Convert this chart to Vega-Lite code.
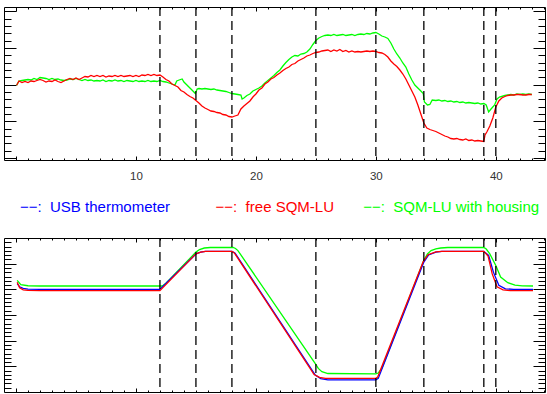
{
  "$schema": "https://vega.github.io/schema/vega-lite/v6.json",
  "padding": {"left": 3, "top": 5, "right": 3, "bottom": 4},
  "background": "white",
  "spacing": 78,
  "bounds": "flush",
  "config": {
    "view": {"stroke": "#000", "strokeWidth": 1},
    "axis": {"domain": false, "grid": false, "labels": false, "ticks": true, "tickColor": "#000", "tickWidth": 1, "title": null},
    "font": "Liberation Sans"
  },
  "resolve": {"scale": {"x": "independent", "y": "independent", "color": "shared"}, "legend": {"color": "shared"}},
  "datasets": {
    "events": [{"t": 12}, {"t": 15}, {"t": 18}, {"t": 25}, {"t": 30}, {"t": 34}, {"t": 39}, {"t": 40}],
    "top": [
      {"series": "SQM-LU with housing", "t": 0.05, "v": 7.27}, {"series": "SQM-LU with housing", "t": 0.25, "v": 7.7}, {"series": "SQM-LU with housing", "t": 0.5, "v": 7.75}, {"series": "SQM-LU with housing", "t": 0.75, "v": 7.8}, {"series": "SQM-LU with housing", "t": 1.0, "v": 7.85}, {"series": "SQM-LU with housing", "t": 1.25, "v": 7.8}, {"series": "SQM-LU with housing", "t": 1.5, "v": 7.95}, {"series": "SQM-LU with housing", "t": 1.75, "v": 7.85}, {"series": "SQM-LU with housing", "t": 2.0, "v": 8.05}, {"series": "SQM-LU with housing", "t": 2.25, "v": 8.0}, {"series": "SQM-LU with housing", "t": 2.5, "v": 7.95}, {"series": "SQM-LU with housing", "t": 2.75, "v": 7.85}, {"series": "SQM-LU with housing", "t": 3.0, "v": 7.95}, {"series": "SQM-LU with housing", "t": 3.25, "v": 7.85}, {"series": "SQM-LU with housing", "t": 3.5, "v": 7.9}, {"series": "SQM-LU with housing", "t": 3.75, "v": 7.8}, {"series": "SQM-LU with housing", "t": 4.0, "v": 7.75}, {"series": "SQM-LU with housing", "t": 4.25, "v": 7.8}, {"series": "SQM-LU with housing", "t": 4.5, "v": 7.9}, {"series": "SQM-LU with housing", "t": 4.75, "v": 7.85}, {"series": "SQM-LU with housing", "t": 5.0, "v": 7.95}, {"series": "SQM-LU with housing", "t": 5.25, "v": 7.85}, {"series": "SQM-LU with housing", "t": 5.5, "v": 7.75}, {"series": "SQM-LU with housing", "t": 5.75, "v": 7.85}, {"series": "SQM-LU with housing", "t": 6.0, "v": 7.75}, {"series": "SQM-LU with housing", "t": 6.25, "v": 7.8}, {"series": "SQM-LU with housing", "t": 6.5, "v": 7.7}, {"series": "SQM-LU with housing", "t": 6.75, "v": 7.75}, {"series": "SQM-LU with housing", "t": 7.0, "v": 7.7}, {"series": "SQM-LU with housing", "t": 7.25, "v": 7.8}, {"series": "SQM-LU with housing", "t": 7.5, "v": 7.65}, {"series": "SQM-LU with housing", "t": 7.75, "v": 7.75}, {"series": "SQM-LU with housing", "t": 8.0, "v": 7.7}, {"series": "SQM-LU with housing", "t": 8.25, "v": 7.8}, {"series": "SQM-LU with housing", "t": 8.5, "v": 7.7}, {"series": "SQM-LU with housing", "t": 8.75, "v": 7.75}, {"series": "SQM-LU with housing", "t": 9.0, "v": 7.65}, {"series": "SQM-LU with housing", "t": 9.25, "v": 7.75}, {"series": "SQM-LU with housing", "t": 9.5, "v": 7.7}, {"series": "SQM-LU with housing", "t": 9.75, "v": 7.65}, {"series": "SQM-LU with housing", "t": 10.0, "v": 7.75}, {"series": "SQM-LU with housing", "t": 10.25, "v": 7.65}, {"series": "SQM-LU with housing", "t": 10.5, "v": 7.7}, {"series": "SQM-LU with housing", "t": 10.75, "v": 7.65}, {"series": "SQM-LU with housing", "t": 11.0, "v": 7.75}, {"series": "SQM-LU with housing", "t": 11.25, "v": 7.65}, {"series": "SQM-LU with housing", "t": 11.5, "v": 7.7}, {"series": "SQM-LU with housing", "t": 11.75, "v": 7.65}, {"series": "SQM-LU with housing", "t": 12.0, "v": 7.75}, {"series": "SQM-LU with housing", "t": 12.25, "v": 7.65}, {"series": "SQM-LU with housing", "t": 12.5, "v": 7.6}, {"series": "SQM-LU with housing", "t": 12.75, "v": 7.5}, {"series": "SQM-LU with housing", "t": 13.0, "v": 7.4}, {"series": "SQM-LU with housing", "t": 13.25, "v": 7.3}, {"series": "SQM-LU with housing", "t": 13.4, "v": 7.7}, {"series": "SQM-LU with housing", "t": 13.6, "v": 7.8}, {"series": "SQM-LU with housing", "t": 13.85, "v": 7.9}, {"series": "SQM-LU with housing", "t": 14.0, "v": 7.6}, {"series": "SQM-LU with housing", "t": 14.25, "v": 7.3}, {"series": "SQM-LU with housing", "t": 14.5, "v": 7.0}, {"series": "SQM-LU with housing", "t": 14.75, "v": 6.7}, {"series": "SQM-LU with housing", "t": 14.95, "v": 6.45}, {"series": "SQM-LU with housing", "t": 15.1, "v": 6.9}, {"series": "SQM-LU with housing", "t": 15.25, "v": 6.95}, {"series": "SQM-LU with housing", "t": 15.5, "v": 6.9}, {"series": "SQM-LU with housing", "t": 15.75, "v": 6.95}, {"series": "SQM-LU with housing", "t": 16.0, "v": 6.9}, {"series": "SQM-LU with housing", "t": 16.25, "v": 6.85}, {"series": "SQM-LU with housing", "t": 16.5, "v": 6.9}, {"series": "SQM-LU with housing", "t": 16.75, "v": 6.8}, {"series": "SQM-LU with housing", "t": 17.0, "v": 6.75}, {"series": "SQM-LU with housing", "t": 17.25, "v": 6.7}, {"series": "SQM-LU with housing", "t": 17.5, "v": 6.65}, {"series": "SQM-LU with housing", "t": 17.75, "v": 6.55}, {"series": "SQM-LU with housing", "t": 18.0, "v": 6.45}, {"series": "SQM-LU with housing", "t": 18.25, "v": 6.4}, {"series": "SQM-LU with housing", "t": 18.5, "v": 6.35}, {"series": "SQM-LU with housing", "t": 18.75, "v": 6.3}, {"series": "SQM-LU with housing", "t": 18.85, "v": 5.9}, {"series": "SQM-LU with housing", "t": 19.0, "v": 6.0}, {"series": "SQM-LU with housing", "t": 19.25, "v": 6.25}, {"series": "SQM-LU with housing", "t": 19.5, "v": 6.4}, {"series": "SQM-LU with housing", "t": 19.75, "v": 6.7}, {"series": "SQM-LU with housing", "t": 20.0, "v": 6.85}, {"series": "SQM-LU with housing", "t": 20.25, "v": 7.0}, {"series": "SQM-LU with housing", "t": 20.5, "v": 7.2}, {"series": "SQM-LU with housing", "t": 20.75, "v": 7.5}, {"series": "SQM-LU with housing", "t": 21.0, "v": 7.75}, {"series": "SQM-LU with housing", "t": 21.25, "v": 8.0}, {"series": "SQM-LU with housing", "t": 21.5, "v": 8.25}, {"series": "SQM-LU with housing", "t": 21.75, "v": 8.55}, {"series": "SQM-LU with housing", "t": 22.0, "v": 8.8}, {"series": "SQM-LU with housing", "t": 22.25, "v": 9.2}, {"series": "SQM-LU with housing", "t": 22.5, "v": 9.55}, {"series": "SQM-LU with housing", "t": 22.75, "v": 9.85}, {"series": "SQM-LU with housing", "t": 23.0, "v": 10.1}, {"series": "SQM-LU with housing", "t": 23.25, "v": 10.25}, {"series": "SQM-LU with housing", "t": 23.5, "v": 10.2}, {"series": "SQM-LU with housing", "t": 23.75, "v": 10.4}, {"series": "SQM-LU with housing", "t": 24.0, "v": 10.45}, {"series": "SQM-LU with housing", "t": 24.25, "v": 10.6}, {"series": "SQM-LU with housing", "t": 24.5, "v": 10.9}, {"series": "SQM-LU with housing", "t": 24.75, "v": 11.35}, {"series": "SQM-LU with housing", "t": 25.0, "v": 11.75}, {"series": "SQM-LU with housing", "t": 25.25, "v": 12.0}, {"series": "SQM-LU with housing", "t": 25.5, "v": 12.15}, {"series": "SQM-LU with housing", "t": 25.75, "v": 12.25}, {"series": "SQM-LU with housing", "t": 26.0, "v": 12.3}, {"series": "SQM-LU with housing", "t": 26.25, "v": 12.25}, {"series": "SQM-LU with housing", "t": 26.5, "v": 12.35}, {"series": "SQM-LU with housing", "t": 26.75, "v": 12.25}, {"series": "SQM-LU with housing", "t": 27.0, "v": 12.3}, {"series": "SQM-LU with housing", "t": 27.25, "v": 12.35}, {"series": "SQM-LU with housing", "t": 27.5, "v": 12.25}, {"series": "SQM-LU with housing", "t": 27.75, "v": 12.3}, {"series": "SQM-LU with housing", "t": 28.0, "v": 12.35}, {"series": "SQM-LU with housing", "t": 28.25, "v": 12.25}, {"series": "SQM-LU with housing", "t": 28.5, "v": 12.35}, {"series": "SQM-LU with housing", "t": 28.75, "v": 12.4}, {"series": "SQM-LU with housing", "t": 29.0, "v": 12.35}, {"series": "SQM-LU with housing", "t": 29.25, "v": 12.45}, {"series": "SQM-LU with housing", "t": 29.5, "v": 12.4}, {"series": "SQM-LU with housing", "t": 29.75, "v": 12.5}, {"series": "SQM-LU with housing", "t": 30.0, "v": 12.55}, {"series": "SQM-LU with housing", "t": 30.25, "v": 12.4}, {"series": "SQM-LU with housing", "t": 30.5, "v": 12.2}, {"series": "SQM-LU with housing", "t": 30.75, "v": 12.1}, {"series": "SQM-LU with housing", "t": 31.0, "v": 11.95}, {"series": "SQM-LU with housing", "t": 31.25, "v": 11.5}, {"series": "SQM-LU with housing", "t": 31.5, "v": 10.9}, {"series": "SQM-LU with housing", "t": 31.75, "v": 10.4}, {"series": "SQM-LU with housing", "t": 32.0, "v": 10.0}, {"series": "SQM-LU with housing", "t": 32.25, "v": 9.5}, {"series": "SQM-LU with housing", "t": 32.5, "v": 9.1}, {"series": "SQM-LU with housing", "t": 32.75, "v": 8.4}, {"series": "SQM-LU with housing", "t": 33.0, "v": 7.8}, {"series": "SQM-LU with housing", "t": 33.25, "v": 7.3}, {"series": "SQM-LU with housing", "t": 33.5, "v": 7.0}, {"series": "SQM-LU with housing", "t": 33.75, "v": 6.7}, {"series": "SQM-LU with housing", "t": 33.95, "v": 6.45}, {"series": "SQM-LU with housing", "t": 34.05, "v": 5.6}, {"series": "SQM-LU with housing", "t": 34.3, "v": 5.3}, {"series": "SQM-LU with housing", "t": 34.5, "v": 5.35}, {"series": "SQM-LU with housing", "t": 34.7, "v": 5.8}, {"series": "SQM-LU with housing", "t": 35.0, "v": 5.75}, {"series": "SQM-LU with housing", "t": 35.25, "v": 5.8}, {"series": "SQM-LU with housing", "t": 35.5, "v": 5.7}, {"series": "SQM-LU with housing", "t": 35.75, "v": 5.75}, {"series": "SQM-LU with housing", "t": 36.0, "v": 5.65}, {"series": "SQM-LU with housing", "t": 36.25, "v": 5.7}, {"series": "SQM-LU with housing", "t": 36.5, "v": 5.6}, {"series": "SQM-LU with housing", "t": 36.75, "v": 5.65}, {"series": "SQM-LU with housing", "t": 37.0, "v": 5.55}, {"series": "SQM-LU with housing", "t": 37.25, "v": 5.6}, {"series": "SQM-LU with housing", "t": 37.5, "v": 5.5}, {"series": "SQM-LU with housing", "t": 37.75, "v": 5.55}, {"series": "SQM-LU with housing", "t": 38.0, "v": 5.5}, {"series": "SQM-LU with housing", "t": 38.25, "v": 5.45}, {"series": "SQM-LU with housing", "t": 38.5, "v": 5.5}, {"series": "SQM-LU with housing", "t": 38.75, "v": 5.4}, {"series": "SQM-LU with housing", "t": 39.0, "v": 5.45}, {"series": "SQM-LU with housing", "t": 39.2, "v": 5.3}, {"series": "SQM-LU with housing", "t": 39.4, "v": 4.6}, {"series": "SQM-LU with housing", "t": 39.6, "v": 4.9}, {"series": "SQM-LU with housing", "t": 39.9, "v": 5.3}, {"series": "SQM-LU with housing", "t": 40.1, "v": 5.9}, {"series": "SQM-LU with housing", "t": 40.3, "v": 6.1}, {"series": "SQM-LU with housing", "t": 40.75, "v": 6.25}, {"series": "SQM-LU with housing", "t": 41.0, "v": 6.3}, {"series": "SQM-LU with housing", "t": 41.25, "v": 6.35}, {"series": "SQM-LU with housing", "t": 41.5, "v": 6.3}, {"series": "SQM-LU with housing", "t": 41.75, "v": 6.4}, {"series": "SQM-LU with housing", "t": 42.0, "v": 6.35}, {"series": "SQM-LU with housing", "t": 42.25, "v": 6.4}, {"series": "SQM-LU with housing", "t": 42.5, "v": 6.35}, {"series": "SQM-LU with housing", "t": 42.75, "v": 6.4}, {"series": "SQM-LU with housing", "t": 43.0, "v": 6.35},
      {"series": "free SQM-LU", "t": 0.05, "v": 7.27}, {"series": "free SQM-LU", "t": 0.25, "v": 7.7}, {"series": "free SQM-LU", "t": 0.5, "v": 7.55}, {"series": "free SQM-LU", "t": 0.75, "v": 7.65}, {"series": "free SQM-LU", "t": 1.0, "v": 7.55}, {"series": "free SQM-LU", "t": 1.25, "v": 7.7}, {"series": "free SQM-LU", "t": 1.5, "v": 7.65}, {"series": "free SQM-LU", "t": 1.75, "v": 7.75}, {"series": "free SQM-LU", "t": 2.0, "v": 7.85}, {"series": "free SQM-LU", "t": 2.25, "v": 7.75}, {"series": "free SQM-LU", "t": 2.5, "v": 7.6}, {"series": "free SQM-LU", "t": 2.75, "v": 7.7}, {"series": "free SQM-LU", "t": 3.0, "v": 7.65}, {"series": "free SQM-LU", "t": 3.25, "v": 7.8}, {"series": "free SQM-LU", "t": 3.5, "v": 7.65}, {"series": "free SQM-LU", "t": 3.75, "v": 7.55}, {"series": "free SQM-LU", "t": 4.0, "v": 7.7}, {"series": "free SQM-LU", "t": 4.25, "v": 7.85}, {"series": "free SQM-LU", "t": 4.5, "v": 7.95}, {"series": "free SQM-LU", "t": 4.75, "v": 7.85}, {"series": "free SQM-LU", "t": 5.0, "v": 8.0}, {"series": "free SQM-LU", "t": 5.25, "v": 7.85}, {"series": "free SQM-LU", "t": 5.5, "v": 8.0}, {"series": "free SQM-LU", "t": 5.75, "v": 8.15}, {"series": "free SQM-LU", "t": 6.0, "v": 8.1}, {"series": "free SQM-LU", "t": 6.25, "v": 8.25}, {"series": "free SQM-LU", "t": 6.5, "v": 8.15}, {"series": "free SQM-LU", "t": 6.75, "v": 8.25}, {"series": "free SQM-LU", "t": 7.0, "v": 8.15}, {"series": "free SQM-LU", "t": 7.25, "v": 8.25}, {"series": "free SQM-LU", "t": 7.5, "v": 8.1}, {"series": "free SQM-LU", "t": 7.75, "v": 8.2}, {"series": "free SQM-LU", "t": 8.0, "v": 8.15}, {"series": "free SQM-LU", "t": 8.25, "v": 8.25}, {"series": "free SQM-LU", "t": 8.5, "v": 8.15}, {"series": "free SQM-LU", "t": 8.75, "v": 8.25}, {"series": "free SQM-LU", "t": 9.0, "v": 8.15}, {"series": "free SQM-LU", "t": 9.25, "v": 8.2}, {"series": "free SQM-LU", "t": 9.5, "v": 8.25}, {"series": "free SQM-LU", "t": 9.75, "v": 8.15}, {"series": "free SQM-LU", "t": 10.0, "v": 8.25}, {"series": "free SQM-LU", "t": 10.25, "v": 8.15}, {"series": "free SQM-LU", "t": 10.5, "v": 8.3}, {"series": "free SQM-LU", "t": 10.75, "v": 8.25}, {"series": "free SQM-LU", "t": 11.0, "v": 8.35}, {"series": "free SQM-LU", "t": 11.25, "v": 8.25}, {"series": "free SQM-LU", "t": 11.5, "v": 8.35}, {"series": "free SQM-LU", "t": 11.75, "v": 8.25}, {"series": "free SQM-LU", "t": 12.0, "v": 8.3}, {"series": "free SQM-LU", "t": 12.25, "v": 8.1}, {"series": "free SQM-LU", "t": 12.5, "v": 7.85}, {"series": "free SQM-LU", "t": 12.75, "v": 7.7}, {"series": "free SQM-LU", "t": 13.0, "v": 7.4}, {"series": "free SQM-LU", "t": 13.25, "v": 7.25}, {"series": "free SQM-LU", "t": 13.5, "v": 7.1}, {"series": "free SQM-LU", "t": 13.75, "v": 6.75}, {"series": "free SQM-LU", "t": 14.0, "v": 6.6}, {"series": "free SQM-LU", "t": 14.25, "v": 6.35}, {"series": "free SQM-LU", "t": 14.5, "v": 6.15}, {"series": "free SQM-LU", "t": 14.75, "v": 6.0}, {"series": "free SQM-LU", "t": 15.0, "v": 5.75}, {"series": "free SQM-LU", "t": 15.25, "v": 5.5}, {"series": "free SQM-LU", "t": 15.5, "v": 5.2}, {"series": "free SQM-LU", "t": 15.75, "v": 5.0}, {"series": "free SQM-LU", "t": 16.0, "v": 4.85}, {"series": "free SQM-LU", "t": 16.25, "v": 4.7}, {"series": "free SQM-LU", "t": 16.5, "v": 4.65}, {"series": "free SQM-LU", "t": 16.75, "v": 4.55}, {"series": "free SQM-LU", "t": 17.0, "v": 4.5}, {"series": "free SQM-LU", "t": 17.25, "v": 4.35}, {"series": "free SQM-LU", "t": 17.5, "v": 4.3}, {"series": "free SQM-LU", "t": 17.75, "v": 4.15}, {"series": "free SQM-LU", "t": 18.0, "v": 4.1}, {"series": "free SQM-LU", "t": 18.25, "v": 4.2}, {"series": "free SQM-LU", "t": 18.5, "v": 4.3}, {"series": "free SQM-LU", "t": 18.75, "v": 4.9}, {"series": "free SQM-LU", "t": 19.0, "v": 5.2}, {"series": "free SQM-LU", "t": 19.25, "v": 5.45}, {"series": "free SQM-LU", "t": 19.5, "v": 5.7}, {"series": "free SQM-LU", "t": 19.75, "v": 6.1}, {"series": "free SQM-LU", "t": 20.0, "v": 6.4}, {"series": "free SQM-LU", "t": 20.25, "v": 6.8}, {"series": "free SQM-LU", "t": 20.5, "v": 7.0}, {"series": "free SQM-LU", "t": 20.75, "v": 7.4}, {"series": "free SQM-LU", "t": 21.0, "v": 7.6}, {"series": "free SQM-LU", "t": 21.25, "v": 7.9}, {"series": "free SQM-LU", "t": 21.5, "v": 8.05}, {"series": "free SQM-LU", "t": 21.75, "v": 8.3}, {"series": "free SQM-LU", "t": 22.0, "v": 8.5}, {"series": "free SQM-LU", "t": 22.25, "v": 8.75}, {"series": "free SQM-LU", "t": 22.5, "v": 8.95}, {"series": "free SQM-LU", "t": 22.75, "v": 9.1}, {"series": "free SQM-LU", "t": 23.0, "v": 9.35}, {"series": "free SQM-LU", "t": 23.25, "v": 9.45}, {"series": "free SQM-LU", "t": 23.5, "v": 9.7}, {"series": "free SQM-LU", "t": 23.75, "v": 9.85}, {"series": "free SQM-LU", "t": 24.0, "v": 10.0}, {"series": "free SQM-LU", "t": 24.25, "v": 10.2}, {"series": "free SQM-LU", "t": 24.5, "v": 10.3}, {"series": "free SQM-LU", "t": 24.75, "v": 10.45}, {"series": "free SQM-LU", "t": 25.0, "v": 10.55}, {"series": "free SQM-LU", "t": 25.25, "v": 10.6}, {"series": "free SQM-LU", "t": 25.5, "v": 10.7}, {"series": "free SQM-LU", "t": 25.75, "v": 10.75}, {"series": "free SQM-LU", "t": 26.0, "v": 10.8}, {"series": "free SQM-LU", "t": 26.25, "v": 10.65}, {"series": "free SQM-LU", "t": 26.5, "v": 10.8}, {"series": "free SQM-LU", "t": 26.75, "v": 10.7}, {"series": "free SQM-LU", "t": 27.0, "v": 10.85}, {"series": "free SQM-LU", "t": 27.25, "v": 10.65}, {"series": "free SQM-LU", "t": 27.5, "v": 10.75}, {"series": "free SQM-LU", "t": 27.75, "v": 10.6}, {"series": "free SQM-LU", "t": 28.0, "v": 10.7}, {"series": "free SQM-LU", "t": 28.25, "v": 10.6}, {"series": "free SQM-LU", "t": 28.5, "v": 10.65}, {"series": "free SQM-LU", "t": 28.75, "v": 10.6}, {"series": "free SQM-LU", "t": 29.0, "v": 10.65}, {"series": "free SQM-LU", "t": 29.25, "v": 10.7}, {"series": "free SQM-LU", "t": 29.5, "v": 10.65}, {"series": "free SQM-LU", "t": 29.75, "v": 10.7}, {"series": "free SQM-LU", "t": 30.0, "v": 10.65}, {"series": "free SQM-LU", "t": 30.25, "v": 10.55}, {"series": "free SQM-LU", "t": 30.5, "v": 10.5}, {"series": "free SQM-LU", "t": 30.75, "v": 10.35}, {"series": "free SQM-LU", "t": 31.0, "v": 10.1}, {"series": "free SQM-LU", "t": 31.25, "v": 9.7}, {"series": "free SQM-LU", "t": 31.5, "v": 9.4}, {"series": "free SQM-LU", "t": 31.75, "v": 9.15}, {"series": "free SQM-LU", "t": 32.0, "v": 8.8}, {"series": "free SQM-LU", "t": 32.25, "v": 8.4}, {"series": "free SQM-LU", "t": 32.5, "v": 7.9}, {"series": "free SQM-LU", "t": 32.75, "v": 7.3}, {"series": "free SQM-LU", "t": 33.0, "v": 6.7}, {"series": "free SQM-LU", "t": 33.25, "v": 6.1}, {"series": "free SQM-LU", "t": 33.5, "v": 5.3}, {"series": "free SQM-LU", "t": 33.75, "v": 4.4}, {"series": "free SQM-LU", "t": 34.0, "v": 3.5}, {"series": "free SQM-LU", "t": 34.25, "v": 3.0}, {"series": "free SQM-LU", "t": 34.5, "v": 2.85}, {"series": "free SQM-LU", "t": 34.75, "v": 2.75}, {"series": "free SQM-LU", "t": 35.0, "v": 2.65}, {"series": "free SQM-LU", "t": 35.25, "v": 2.5}, {"series": "free SQM-LU", "t": 35.5, "v": 2.35}, {"series": "free SQM-LU", "t": 35.75, "v": 2.2}, {"series": "free SQM-LU", "t": 36.0, "v": 2.1}, {"series": "free SQM-LU", "t": 36.25, "v": 1.95}, {"series": "free SQM-LU", "t": 36.5, "v": 1.9}, {"series": "free SQM-LU", "t": 36.75, "v": 1.95}, {"series": "free SQM-LU", "t": 37.0, "v": 1.85}, {"series": "free SQM-LU", "t": 37.25, "v": 1.8}, {"series": "free SQM-LU", "t": 37.5, "v": 1.9}, {"series": "free SQM-LU", "t": 37.75, "v": 1.75}, {"series": "free SQM-LU", "t": 38.0, "v": 1.8}, {"series": "free SQM-LU", "t": 38.25, "v": 1.7}, {"series": "free SQM-LU", "t": 38.5, "v": 1.75}, {"series": "free SQM-LU", "t": 38.75, "v": 1.7}, {"series": "free SQM-LU", "t": 39.0, "v": 1.65}, {"series": "free SQM-LU", "t": 39.1, "v": 2.3}, {"series": "free SQM-LU", "t": 39.25, "v": 2.6}, {"series": "free SQM-LU", "t": 39.5, "v": 3.2}, {"series": "free SQM-LU", "t": 39.75, "v": 4.0}, {"series": "free SQM-LU", "t": 40.0, "v": 5.1}, {"series": "free SQM-LU", "t": 40.25, "v": 5.7}, {"series": "free SQM-LU", "t": 40.5, "v": 6.0}, {"series": "free SQM-LU", "t": 40.75, "v": 6.15}, {"series": "free SQM-LU", "t": 41.0, "v": 6.25}, {"series": "free SQM-LU", "t": 41.25, "v": 6.3}, {"series": "free SQM-LU", "t": 41.5, "v": 6.3}, {"series": "free SQM-LU", "t": 41.75, "v": 6.35}, {"series": "free SQM-LU", "t": 42.0, "v": 6.35}, {"series": "free SQM-LU", "t": 42.25, "v": 6.3}, {"series": "free SQM-LU", "t": 42.5, "v": 6.3}, {"series": "free SQM-LU", "t": 42.75, "v": 6.35}, {"series": "free SQM-LU", "t": 43.0, "v": 6.35}
    ],
    "bottom": [
      {"series": "SQM-LU with housing", "t": 0.1, "v": 23.5}, {"series": "SQM-LU with housing", "t": 0.4, "v": 21.8}, {"series": "SQM-LU with housing", "t": 1.0, "v": 21.4}, {"series": "SQM-LU with housing", "t": 2.0, "v": 21.3}, {"series": "SQM-LU with housing", "t": 12.2, "v": 21.3}, {"series": "SQM-LU with housing", "t": 12.5, "v": 22.4}, {"series": "SQM-LU with housing", "t": 15.0, "v": 34.5}, {"series": "SQM-LU with housing", "t": 15.3, "v": 35.5}, {"series": "SQM-LU with housing", "t": 15.7, "v": 36.1}, {"series": "SQM-LU with housing", "t": 16.2, "v": 36.3}, {"series": "SQM-LU with housing", "t": 18.1, "v": 36.3}, {"series": "SQM-LU with housing", "t": 18.3, "v": 35.9}, {"series": "SQM-LU with housing", "t": 18.5, "v": 35.1}, {"series": "SQM-LU with housing", "t": 24.95, "v": -8.9}, {"series": "SQM-LU with housing", "t": 25.2, "v": -10.8}, {"series": "SQM-LU with housing", "t": 25.5, "v": -12.1}, {"series": "SQM-LU with housing", "t": 26.0, "v": -12.8}, {"series": "SQM-LU with housing", "t": 30.0, "v": -12.9}, {"series": "SQM-LU with housing", "t": 30.2, "v": -12.6}, {"series": "SQM-LU with housing", "t": 30.5, "v": -10.8}, {"series": "SQM-LU with housing", "t": 34.0, "v": 31.3}, {"series": "SQM-LU with housing", "t": 34.3, "v": 33.8}, {"series": "SQM-LU with housing", "t": 34.6, "v": 35.1}, {"series": "SQM-LU with housing", "t": 35.0, "v": 35.8}, {"series": "SQM-LU with housing", "t": 35.4, "v": 36.1}, {"series": "SQM-LU with housing", "t": 36.0, "v": 36.3}, {"series": "SQM-LU with housing", "t": 39.0, "v": 36.3}, {"series": "SQM-LU with housing", "t": 39.2, "v": 35.7}, {"series": "SQM-LU with housing", "t": 39.5, "v": 33.8}, {"series": "SQM-LU with housing", "t": 40.0, "v": 29.3}, {"series": "SQM-LU with housing", "t": 40.4, "v": 24.8}, {"series": "SQM-LU with housing", "t": 41.0, "v": 22.6}, {"series": "SQM-LU with housing", "t": 41.6, "v": 21.6}, {"series": "SQM-LU with housing", "t": 42.2, "v": 21.35}, {"series": "SQM-LU with housing", "t": 43.1, "v": 21.3},
      {"series": "USB thermometer", "t": 0.1, "v": 22.2}, {"series": "USB thermometer", "t": 0.3, "v": 21.0}, {"series": "USB thermometer", "t": 0.6, "v": 20.4}, {"series": "USB thermometer", "t": 1.0, "v": 20.1}, {"series": "USB thermometer", "t": 2.0, "v": 20.0}, {"series": "USB thermometer", "t": 12.0, "v": 20.0}, {"series": "USB thermometer", "t": 15.0, "v": 33.8}, {"series": "USB thermometer", "t": 15.4, "v": 34.5}, {"series": "USB thermometer", "t": 15.8, "v": 34.8}, {"series": "USB thermometer", "t": 18.0, "v": 34.8}, {"series": "USB thermometer", "t": 18.25, "v": 34.2}, {"series": "USB thermometer", "t": 24.95, "v": -13.4}, {"series": "USB thermometer", "t": 25.4, "v": -14.8}, {"series": "USB thermometer", "t": 26.0, "v": -15.3}, {"series": "USB thermometer", "t": 30.0, "v": -15.3}, {"series": "USB thermometer", "t": 30.2, "v": -14.7}, {"series": "USB thermometer", "t": 34.0, "v": 30.6}, {"series": "USB thermometer", "t": 34.4, "v": 33.4}, {"series": "USB thermometer", "t": 35.0, "v": 34.5}, {"series": "USB thermometer", "t": 35.5, "v": 34.8}, {"series": "USB thermometer", "t": 39.0, "v": 34.8}, {"series": "USB thermometer", "t": 39.4, "v": 33.2}, {"series": "USB thermometer", "t": 39.8, "v": 26.7}, {"series": "USB thermometer", "t": 40.25, "v": 21.6}, {"series": "USB thermometer", "t": 40.8, "v": 20.2}, {"series": "USB thermometer", "t": 41.5, "v": 20.0}, {"series": "USB thermometer", "t": 43.1, "v": 20.0},
      {"series": "free SQM-LU", "t": 0.1, "v": 22.8}, {"series": "free SQM-LU", "t": 0.3, "v": 20.6}, {"series": "free SQM-LU", "t": 0.6, "v": 19.8}, {"series": "free SQM-LU", "t": 1.0, "v": 19.6}, {"series": "free SQM-LU", "t": 2.0, "v": 19.5}, {"series": "free SQM-LU", "t": 12.0, "v": 19.5}, {"series": "free SQM-LU", "t": 15.0, "v": 33.8}, {"series": "free SQM-LU", "t": 15.4, "v": 34.5}, {"series": "free SQM-LU", "t": 15.8, "v": 34.8}, {"series": "free SQM-LU", "t": 18.0, "v": 34.8}, {"series": "free SQM-LU", "t": 18.2, "v": 34.2}, {"series": "free SQM-LU", "t": 24.85, "v": -13.2}, {"series": "free SQM-LU", "t": 25.3, "v": -14.3}, {"series": "free SQM-LU", "t": 25.8, "v": -14.7}, {"series": "free SQM-LU", "t": 30.0, "v": -14.7}, {"series": "free SQM-LU", "t": 30.15, "v": -14.2}, {"series": "free SQM-LU", "t": 33.95, "v": 30.8}, {"series": "free SQM-LU", "t": 34.35, "v": 33.5}, {"series": "free SQM-LU", "t": 35.0, "v": 34.6}, {"series": "free SQM-LU", "t": 35.5, "v": 34.8}, {"series": "free SQM-LU", "t": 39.0, "v": 34.8}, {"series": "free SQM-LU", "t": 39.35, "v": 33.0}, {"series": "free SQM-LU", "t": 39.7, "v": 26.0}, {"series": "free SQM-LU", "t": 40.1, "v": 21.0}, {"series": "free SQM-LU", "t": 40.6, "v": 19.8}, {"series": "free SQM-LU", "t": 41.2, "v": 19.5}, {"series": "free SQM-LU", "t": 43.1, "v": 19.5}
    ]
  },
  "vconcat": [
    {
      "width": 541,
      "height": 153,
      "resolve": {"axis": {"x": "independent", "y": "independent"}},
      "layer": [
        {
          "data": {"name": "top"},
          "transform": [{"filter": "datum.series === 'SQM-LU with housing'"}],
          "mark": {"type": "line", "strokeWidth": 1.3},
          "encoding": {
            "x": {"field": "t", "type": "quantitative", "scale": {"domain": [-1, 44.1], "nice": false, "zero": false},
              "axis": {"orient": "bottom", "values": [0,1,2,3,4,5,6,7,8,9,10,11,12,13,14,15,16,17,18,19,20,21,22,23,24,25,26,27,28,29,30,31,32,33,34,35,36,37,38,39,40,41,42,43,44],
                "labels": true, "labelExpr": "datum.value % 10 === 0 && datum.value > 0 ? datum.label : ''", "labelFont": "Liberation Sans", "labelFontSize": 11.5, "labelColor": "#333", "labelPadding": 14.5, "labelFlush": false, "labelBound": false,
                "tickSize": {"condition": {"test": "datum.value % 10 === 0", "value": -4}, "value": -2}}},
            "y": {"field": "v", "type": "quantitative", "scale": {"domain": [-0.2, 15.1], "nice": false, "zero": false},
              "axis": {"orient": "left", "values": [0,0.734,1.468,2.202,2.936,3.67,4.404,5.138,5.872,6.606,7.34,8.074,8.808,9.542,10.276,11.01,11.744,12.478,13.212,13.946,14.68],
                "tickSize": {"condition": {"test": "indexof([0,3.67,7.34,11.01,14.68], datum.value) >= 0", "value": -12}, "value": -7}}},
            "color": {"field": "series", "type": "nominal",
              "scale": {"domain": ["USB thermometer", "free SQM-LU", "SQM-LU with housing"], "range": ["#0000ff", "#ff0000", "#00ff00"]},
              "legend": {"orient": "none", "legendX": 1, "legendY": 192, "direction": "horizontal", "title": null, "symbolSize": 0, "symbolOpacity": 0, "symbolStrokeWidth": 0, "labelOffset": 0, "columnPadding": 13.6, "labelFont": "Liberation Sans", "labelFontSize": 15, "labelLimit": 300,
                "labelExpr": "'−−:\u00a0 ' + datum.label",
                "encode": {"labels": {"update": {"fill": {"signal": "datum.value === 'USB thermometer' ? '#0000ff' : datum.value === 'free SQM-LU' ? '#ff0000' : '#00ff00'"}, "dx": {"signal": "datum.value === 'free SQM-LU' ? 16 : 0"}}}}}}
          }
        },
        {
          "data": {"name": "top"},
          "transform": [{"filter": "datum.series === 'free SQM-LU'"}],
          "mark": {"type": "line", "strokeWidth": 1.3},
          "encoding": {
            "x": {"field": "t", "type": "quantitative", "scale": {"domain": [-1, 44.1], "nice": false, "zero": false},
              "axis": {"orient": "top", "values": [0,1,2,3,4,5,6,7,8,9,10,11,12,13,14,15,16,17,18,19,20,21,22,23,24,25,26,27,28,29,30,31,32,33,34,35,36,37,38,39,40,41,42,43,44],
                "tickSize": {"condition": {"test": "datum.value % 10 === 0", "value": -4}, "value": -2}}},
            "y": {"field": "v", "type": "quantitative", "scale": {"domain": [-0.2, 15.1], "nice": false, "zero": false},
              "axis": {"orient": "right", "values": [0,0.734,1.468,2.202,2.936,3.67,4.404,5.138,5.872,6.606,7.34,8.074,8.808,9.542,10.276,11.01,11.744,12.478,13.212,13.946,14.68],
                "tickSize": {"condition": {"test": "indexof([0,3.67,7.34,11.01,14.68], datum.value) >= 0", "value": -12}, "value": -7}}},
            "color": {"field": "series", "type": "nominal",
              "scale": {"domain": ["USB thermometer", "free SQM-LU", "SQM-LU with housing"], "range": ["#0000ff", "#ff0000", "#00ff00"]},
              "legend": {"orient": "none", "legendX": 1, "legendY": 192, "direction": "horizontal", "title": null, "symbolSize": 0, "symbolOpacity": 0, "symbolStrokeWidth": 0, "labelOffset": 0, "columnPadding": 13.6, "labelFont": "Liberation Sans", "labelFontSize": 15, "labelLimit": 300,
                "labelExpr": "'−−:\u00a0 ' + datum.label",
                "encode": {"labels": {"update": {"fill": {"signal": "datum.value === 'USB thermometer' ? '#0000ff' : datum.value === 'free SQM-LU' ? '#ff0000' : '#00ff00'"}, "dx": {"signal": "datum.value === 'free SQM-LU' ? 16 : 0"}}}}}}
          }
        },
        {
          "data": {"name": "events"},
          "mark": {"type": "rule", "strokeDash": [9, 5], "color": "#000", "strokeWidth": 1.3},
          "encoding": {"x": {"field": "t", "type": "quantitative", "scale": {"domain": [-1, 44.1], "nice": false, "zero": false}, "axis": null}}
        }
      ]
    },
    {
      "width": 541,
      "height": 154,
      "resolve": {"axis": {"x": "independent", "y": "independent"}},
      "layer": [
        {
          "data": {"name": "bottom"},
          "transform": [{"filter": "datum.series === 'SQM-LU with housing'"}],
          "mark": {"type": "line", "strokeWidth": 1.3},
          "encoding": {
            "x": {"field": "t", "type": "quantitative", "scale": {"domain": [-1, 44.1], "nice": false, "zero": false},
              "axis": {"orient": "bottom", "values": [0,1,2,3,4,5,6,7,8,9,10,11,12,13,14,15,16,17,18,19,20,21,22,23,24,25,26,27,28,29,30,31,32,33,34,35,36,37,38,39,40,41,42,43,44],
                "tickSize": {"condition": {"test": "datum.value % 10 === 0", "value": -4}, "value": -2}}},
            "y": {"field": "v", "type": "quantitative", "scale": {"domain": [-20, 40], "nice": false, "zero": false},
              "axis": {"orient": "left", "values": [-18.333,-16.667,-15,-13.333,-11.667,-10,-8.333,-6.667,-5,-3.333,-1.667,0,1.667,3.333,5,6.667,8.333,10,11.667,13.333,15,16.667,18.333,20,21.667,23.333,25,26.667,28.333,30,31.667,33.333,35,36.667,38.333],
                "tickSize": {"condition": {"test": "datum.value % 10 === 0", "value": -12}, "value": -7}}},
            "color": {"field": "series", "type": "nominal",
              "scale": {"domain": ["USB thermometer", "free SQM-LU", "SQM-LU with housing"], "range": ["#0000ff", "#ff0000", "#00ff00"]},
              "legend": {"orient": "none", "legendX": 1, "legendY": 192, "direction": "horizontal", "title": null, "symbolSize": 0, "symbolOpacity": 0, "symbolStrokeWidth": 0, "labelOffset": 0, "columnPadding": 13.6, "labelFont": "Liberation Sans", "labelFontSize": 15, "labelLimit": 300,
                "labelExpr": "'−−:\u00a0 ' + datum.label",
                "encode": {"labels": {"update": {"fill": {"signal": "datum.value === 'USB thermometer' ? '#0000ff' : datum.value === 'free SQM-LU' ? '#ff0000' : '#00ff00'"}, "dx": {"signal": "datum.value === 'free SQM-LU' ? 16 : 0"}}}}}}
          }
        },
        {
          "data": {"name": "bottom"},
          "transform": [{"filter": "datum.series === 'USB thermometer'"}],
          "mark": {"type": "line", "strokeWidth": 1.3},
          "encoding": {
            "x": {"field": "t", "type": "quantitative", "scale": {"domain": [-1, 44.1], "nice": false, "zero": false},
              "axis": {"orient": "top", "values": [0,1,2,3,4,5,6,7,8,9,10,11,12,13,14,15,16,17,18,19,20,21,22,23,24,25,26,27,28,29,30,31,32,33,34,35,36,37,38,39,40,41,42,43,44],
                "tickSize": {"condition": {"test": "datum.value % 10 === 0", "value": -4}, "value": -2}}},
            "y": {"field": "v", "type": "quantitative", "scale": {"domain": [-20, 40], "nice": false, "zero": false},
              "axis": {"orient": "right", "values": [-18.333,-16.667,-15,-13.333,-11.667,-10,-8.333,-6.667,-5,-3.333,-1.667,0,1.667,3.333,5,6.667,8.333,10,11.667,13.333,15,16.667,18.333,20,21.667,23.333,25,26.667,28.333,30,31.667,33.333,35,36.667,38.333],
                "tickSize": {"condition": {"test": "datum.value % 10 === 0", "value": -12}, "value": -7}}},
            "color": {"field": "series", "type": "nominal",
              "scale": {"domain": ["USB thermometer", "free SQM-LU", "SQM-LU with housing"], "range": ["#0000ff", "#ff0000", "#00ff00"]},
              "legend": {"orient": "none", "legendX": 1, "legendY": 192, "direction": "horizontal", "title": null, "symbolSize": 0, "symbolOpacity": 0, "symbolStrokeWidth": 0, "labelOffset": 0, "columnPadding": 13.6, "labelFont": "Liberation Sans", "labelFontSize": 15, "labelLimit": 300,
                "labelExpr": "'−−:\u00a0 ' + datum.label",
                "encode": {"labels": {"update": {"fill": {"signal": "datum.value === 'USB thermometer' ? '#0000ff' : datum.value === 'free SQM-LU' ? '#ff0000' : '#00ff00'"}, "dx": {"signal": "datum.value === 'free SQM-LU' ? 16 : 0"}}}}}}
          }
        },
        {
          "data": {"name": "bottom"},
          "transform": [{"filter": "datum.series === 'free SQM-LU'"}],
          "mark": {"type": "line", "strokeWidth": 1.3},
          "encoding": {
            "x": {"field": "t", "type": "quantitative", "scale": {"domain": [-1, 44.1], "nice": false, "zero": false}, "axis": null},
            "y": {"field": "v", "type": "quantitative", "scale": {"domain": [-20, 40], "nice": false, "zero": false}, "axis": null},
            "color": {"field": "series", "type": "nominal",
              "scale": {"domain": ["USB thermometer", "free SQM-LU", "SQM-LU with housing"], "range": ["#0000ff", "#ff0000", "#00ff00"]},
              "legend": {"orient": "none", "legendX": 1, "legendY": 192, "direction": "horizontal", "title": null, "symbolSize": 0, "symbolOpacity": 0, "symbolStrokeWidth": 0, "labelOffset": 0, "columnPadding": 13.6, "labelFont": "Liberation Sans", "labelFontSize": 15, "labelLimit": 300,
                "labelExpr": "'−−:\u00a0 ' + datum.label",
                "encode": {"labels": {"update": {"fill": {"signal": "datum.value === 'USB thermometer' ? '#0000ff' : datum.value === 'free SQM-LU' ? '#ff0000' : '#00ff00'"}, "dx": {"signal": "datum.value === 'free SQM-LU' ? 16 : 0"}}}}}}
          }
        },
        {
          "data": {"name": "events"},
          "mark": {"type": "rule", "strokeDash": [9, 5], "color": "#000", "strokeWidth": 1.3},
          "encoding": {"x": {"field": "t", "type": "quantitative", "scale": {"domain": [-1, 44.1], "nice": false, "zero": false}, "axis": null}}
        }
      ]
    }
  ]
}
